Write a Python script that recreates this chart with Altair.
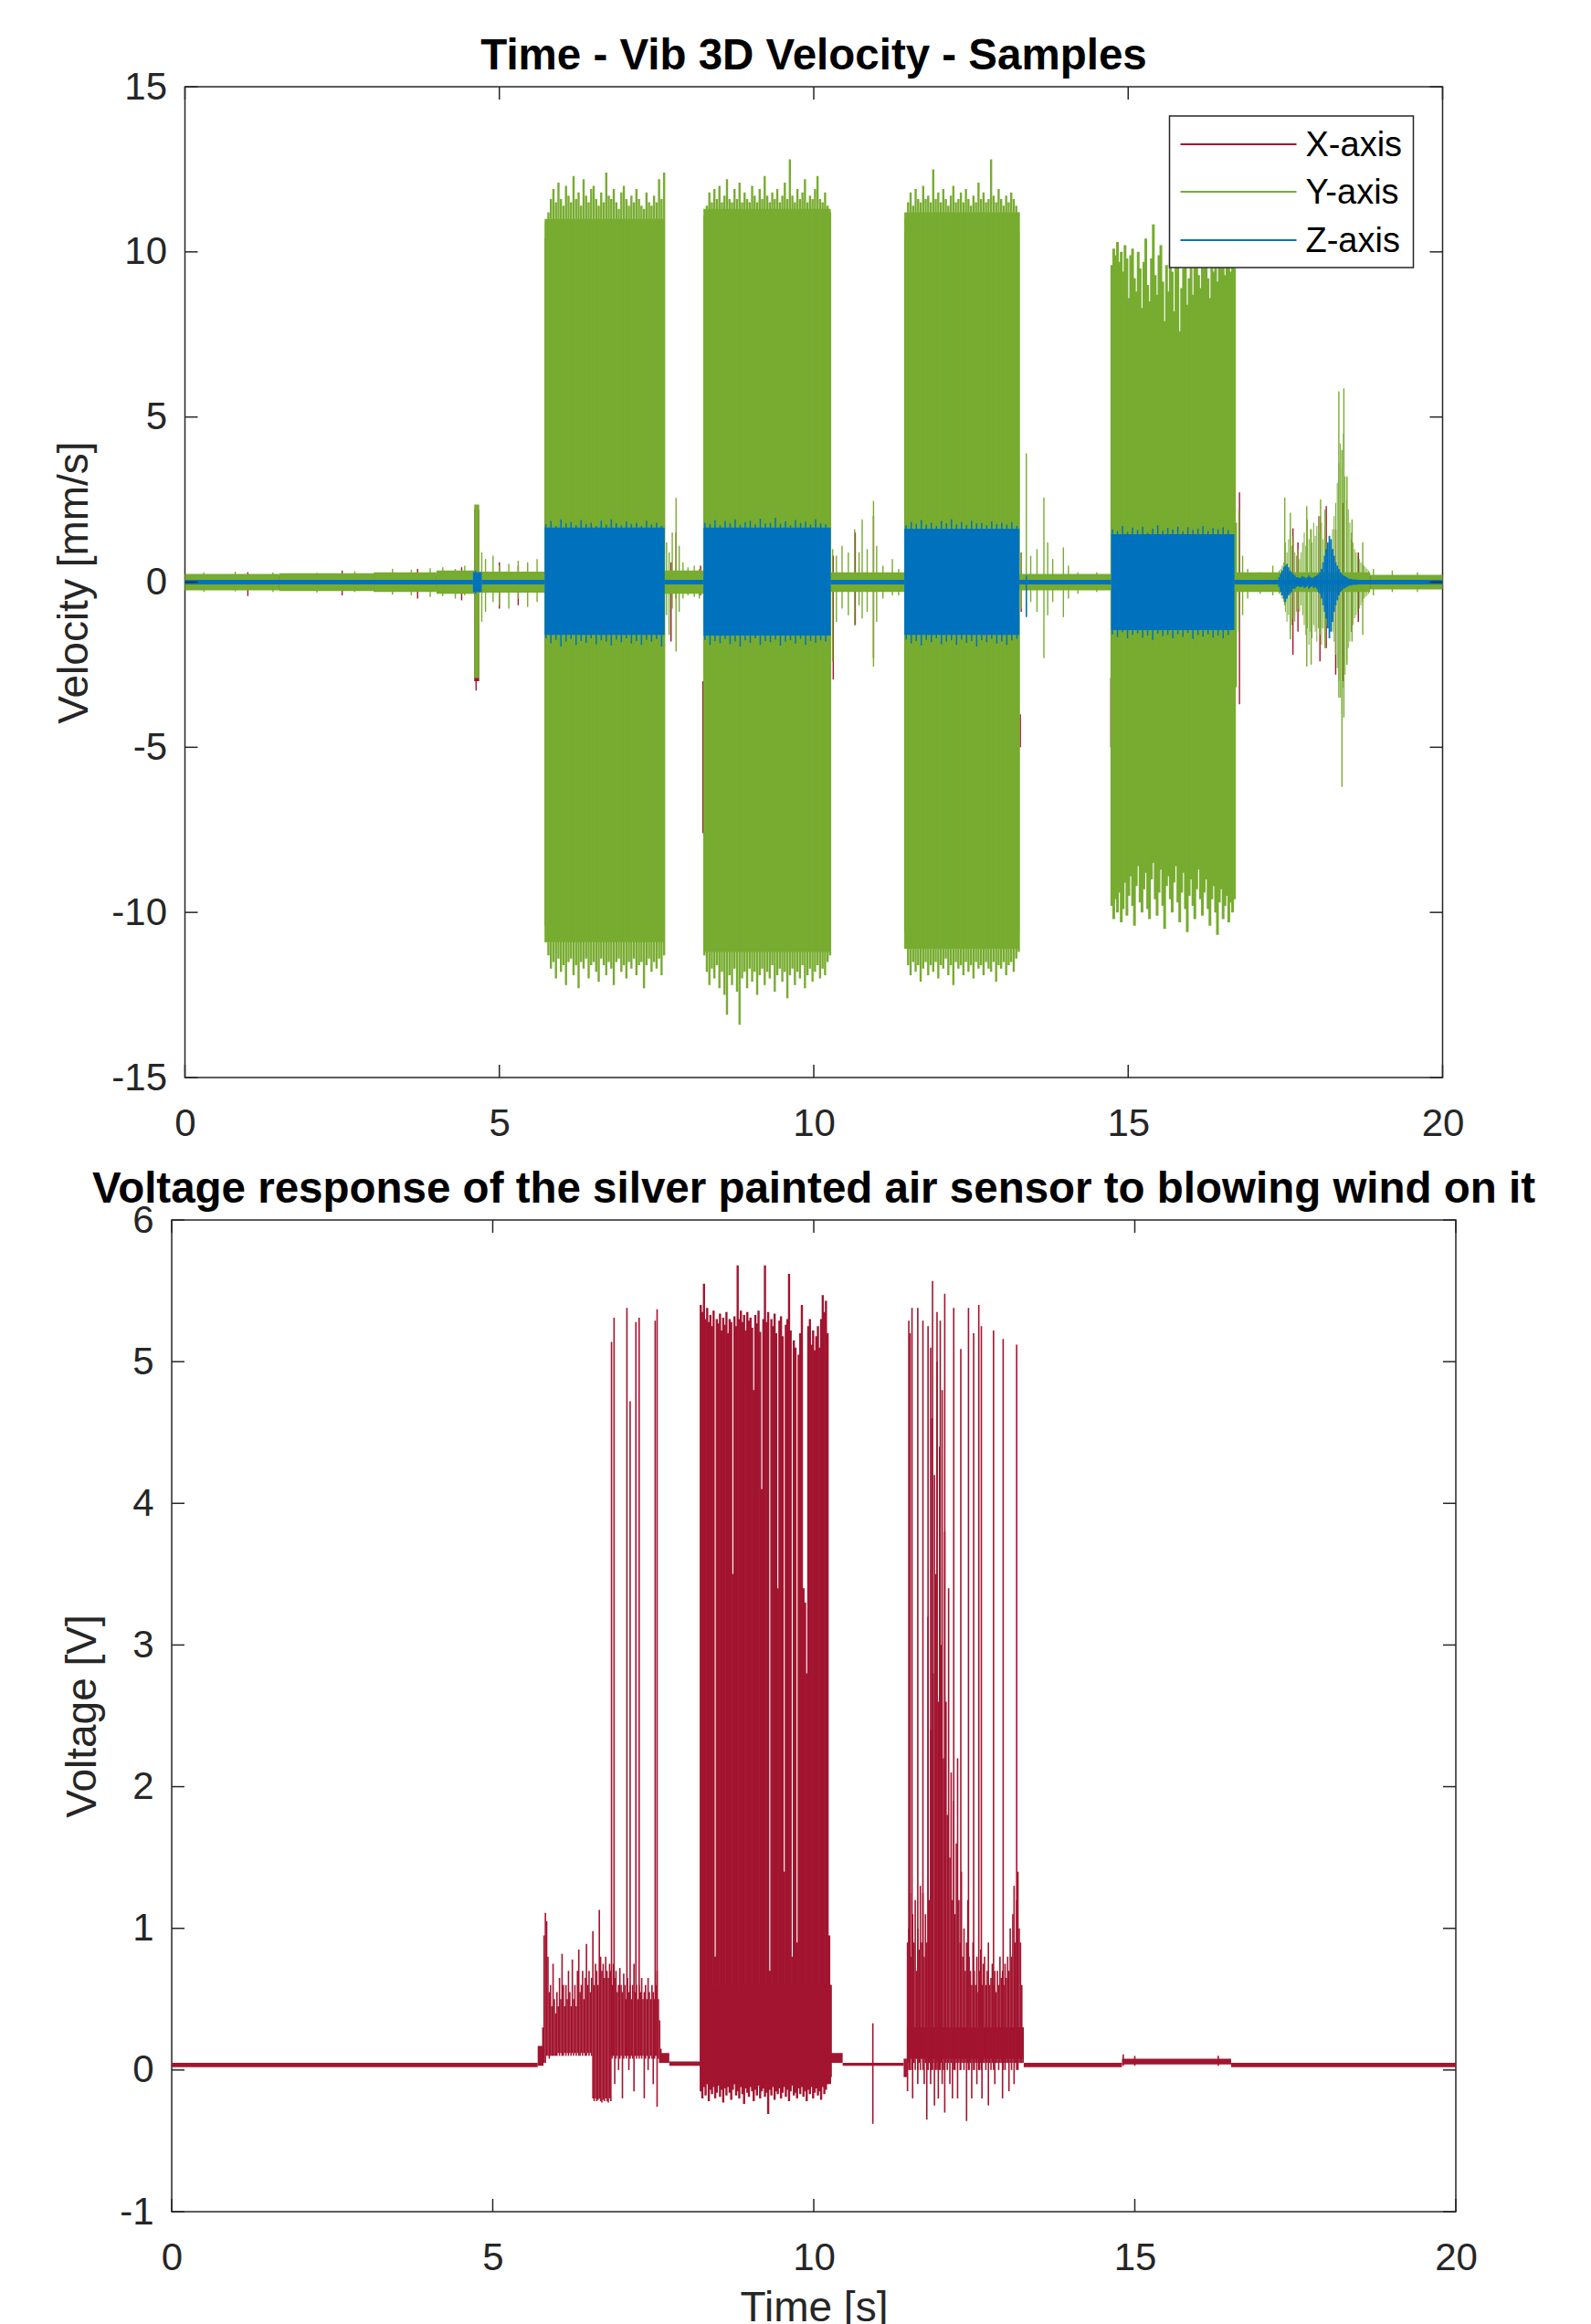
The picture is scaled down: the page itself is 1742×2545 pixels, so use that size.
import altair as alt
import pandas as pd

FONT = "Liberation Sans"
AX = "#262626"

# ======================= TOP PANEL: 3D vibration velocity =======================
SERIES = ["X-axis", "Y-axis", "Z-axis"]
COLORS = ["#A2142F", "#77AC30", "#0072BD"]

X_TICKS = [0, 5, 10, 15, 20]
V_TICKS = [-15, -10, -5, 0, 5, 10, 15]
U_TICKS = [-1, 0, 1, 2, 3, 4, 5, 6]

# envelope bands (start s, end s, low, high)
X_BANDS = [(0, 4.6, -0.22, 0.2), (4.6, 4.68, -3.0, 2.2), (4.68, 5.72, -0.25, 0.22),
           (5.72, 7.63, -10.4, 10.4), (7.63, 8.24, -0.25, 0.22), (8.245, 10.27, -10.8, 10.8),
           (10.27, 11.44, -0.22, 0.2), (11.44, 13.27, -10.6, 10.6), (13.27, 14.73, -0.2, 0.2),
           (14.73, 16.69, -7.5, 6.8), (16.69, 20, -0.2, 0.2)]
X_SPIKES = [(1.0, -0.42, 0.3), (2.5, -0.4, 0.35), (3.7, -0.5, 0.4), (4.4, -0.55, 0.45),
            (4.63, -3.28, 1.5), (5.0, -0.8, 0.6), (5.3, -0.7, 0.5), (7.73, -1.8, 0.6),
            (7.81, -0.5, 1.5), (8.2, -0.4, 0.5), (8.238, -7.6, -3.0), (10.31, -2.95, 0.8),
            (10.66, -1.3, 1.5), (10.95, -2.3, 2.0), (13.285, -5.0, -4.0), (13.3, -0.9, 0.9),
            (14.725, -5.0, -2.9), (16.695, -3.8, -3.3), (16.77, -3.7, 2.72), (17.62, -2.2, 1.63),
            (17.7, -1.5, 1.2), (18.05, -2.4, 2.0), (18.15, -2.0, 2.3), (18.3, -2.8, 1.6),
            (18.42, -3.0, 2.4), (18.55, -1.5, 1.3), (18.66, -1.2, 0.9)]

Y_BANDS = [(0, 1.5, -0.25, 0.25), (1.5, 3.0, -0.27, 0.27), (3.0, 4.0, -0.3, 0.3),
           (4.0, 4.6, -0.35, 0.35), (4.6, 4.68, -2.9, 2.35), (4.68, 5.72, -0.32, 0.32),
           (5.72, 7.63, -10.9, 11.0), (7.63, 8.245, -0.35, 0.35), (8.245, 10.27, -11.2, 11.3),
           (10.27, 11.44, -0.3, 0.3), (11.44, 13.27, -11.1, 11.2), (13.27, 14.73, -0.25, 0.25),
           (14.73, 16.69, -8.0, 7.0), (16.69, 18.85, -0.3, 0.3), (18.85, 20, -0.22, 0.22)]
Y_SPIKES = [(0.3, -0.3, 0.3), (0.8, -0.28, 0.32), (1.4, -0.3, 0.3), (2.1, -0.32, 0.28),
            (2.7, -0.3, 0.33), (3.3, -0.38, 0.4), (3.6, -0.4, 0.38), (3.9, -0.45, 0.42),
            (4.1, -0.42, 0.45), (4.3, -0.5, 0.4), (4.45, -0.4, 0.5),
            (4.72, -1.2, 0.9), (4.78, -0.9, 0.7), (4.9, -0.6, 0.8), (5.0, -0.7, 0.5),
            (5.15, -0.8, 0.55), (5.3, -0.5, 0.65), (5.45, -0.75, 0.6), (5.6, -0.6, 0.7),
            (7.66, -1.0, 1.2), (7.70, -1.6, 0.9), (7.75, -0.8, 1.5), (7.81, -2.1, 2.55),
            (7.86, -0.9, 1.1), (7.92, -0.5, 0.6), (8.0, -0.4, 0.45), (8.1, -0.45, 0.5),
            (8.18, -0.5, 0.4),
            (10.30, -2.4, 1.0), (10.36, -1.2, 0.8), (10.45, -0.8, 1.1), (10.55, -1.0, 0.9),
            (10.65, -1.3, 1.6), (10.72, -0.7, 0.9), (10.77, -1.1, 1.9), (10.85, -0.9, 1.0),
            (10.95, -2.56, 2.46), (11.0, -1.2, 1.1), (11.1, -0.5, 0.5), (11.25, -0.4, 0.7),
            (11.35, -0.4, 0.4),
            (13.30, -0.8, 0.9), (13.38, -1.0, 3.9), (13.45, -0.6, 0.8), (13.55, -0.9, 1.0),
            (13.66, -2.3, 2.56), (13.72, -1.0, 1.2), (13.8, -0.6, 0.7), (13.97, -1.06, 1.05),
            (14.05, -0.5, 0.5), (14.2, -0.35, 0.3), (14.5, -0.3, 0.3),
            (16.72, -3.18, 1.8), (16.76, -1.5, 2.2), (16.82, -1.0, 0.8), (16.9, -0.5, 0.4),
            (17.1, -0.35, 0.3), (17.3, -0.4, 0.5),
            (17.49, -0.7, 2.56), (17.58, -1.73, 2.1), (17.84, -2.56, 2.3), (17.91, -2.5, 1.6),
            (18.06, -1.4, 2.5), (18.13, -2.0, 2.2), (18.35, -3.5, 5.78), (18.40, -6.2, 4.0),
            (18.43, -4.1, 5.87), (18.48, -2.5, 3.2), (18.56, -1.8, 1.9), (18.73, -1.6, 1.2),
            (18.9, -0.4, 0.4), (19.2, -0.3, 0.35), (19.6, -0.3, 0.3)]

# sampled parts of the Y-axis trace (start s, step s, lows, highs)
Y_B1 = (5.74, 0.04,
        [-10.9, -11.3, -11.7, -11.5, -12.0, -11.4, -11.8, -11.6, -12.2, -11.5, -11.4, -11.9,
         -11.6, -12.3, -11.5, -11.7, -11.4, -12.0, -11.6, -11.5, -11.8, -12.1, -11.4, -11.6,
         -11.9, -11.5, -11.7, -12.2, -11.5, -11.4, -11.8, -11.6, -12.0, -11.5, -11.7, -11.4,
         -11.9, -11.6, -11.5, -12.3, -11.6, -11.4, -11.8, -11.5, -11.7, -11.4, -11.9, -11.3],
        [10.9, 11.2, 11.6, 11.9, 11.5, 12.1, 11.6, 11.4, 12.0, 11.7, 11.5, 12.3, 11.6, 11.8,
         11.4, 12.2, 11.7, 11.5, 11.9, 12.0, 11.6, 11.4, 11.8, 11.5, 12.4, 11.7, 11.6, 11.9,
         11.5, 11.3, 11.8, 12.0, 11.6, 11.4, 11.7, 11.5, 11.9, 11.6, 11.4, 11.3, 11.8, 11.5,
         11.4, 11.7, 11.5, 12.2, 11.6, 12.4])
Y_B2 = (8.26, 0.04,
        [-11.3, -11.8, -12.2, -11.7, -12.0, -11.6, -12.3, -11.8, -12.5, -13.1, -11.9, -12.2,
         -11.7, -12.4, -13.4, -12.0, -11.8, -12.3, -11.7, -12.1, -11.8, -12.5, -11.9, -11.7,
         -12.2, -11.8, -12.0, -11.6, -12.4, -11.9, -11.7, -12.1, -11.8, -12.6, -11.9, -11.7,
         -12.2, -11.8, -12.0, -11.6, -12.3, -11.9, -11.7, -12.1, -11.8, -11.6, -12.0, -11.7,
         -11.9, -11.5, -11.3],
        [11.1, 11.4, 11.8, 11.5, 11.9, 11.6, 12.0, 11.5, 11.7, 12.2, 11.6, 11.5, 11.9, 11.6,
         12.1, 11.5, 11.8, 11.6, 11.5, 12.0, 11.7, 11.5, 11.9, 11.6, 12.3, 11.7, 11.5, 11.8,
         11.6, 11.9, 11.5, 11.7, 12.1, 11.6, 12.8, 11.7, 11.5, 11.9, 11.6, 11.8, 12.2, 11.5,
         11.7, 11.6, 11.9, 12.3, 11.6, 11.5, 11.8, 11.4, 11.2])
Y_B3 = (11.46, 0.04,
        [-11.1, -11.6, -11.9, -11.5, -11.8, -11.6, -12.1, -11.7, -11.5, -11.9, -11.6, -11.8,
         -11.5, -12.0, -11.6, -11.7, -11.4, -11.9, -11.6, -12.2, -11.5, -11.7, -11.6, -11.9,
         -11.5, -11.8, -11.6, -12.0, -11.5, -11.7, -11.6, -11.9, -11.5, -11.7, -11.8, -11.5,
         -12.1, -11.6, -11.7, -11.5, -11.9, -11.6, -11.5, -11.8, -11.4, -11.2],
        [11.0, 11.5, 11.8, 11.4, 11.9, 11.6, 11.5, 12.0, 11.6, 11.7, 11.5, 12.5, 11.6, 11.8,
         11.5, 11.9, 11.6, 11.4, 11.7, 12.0, 11.5, 11.6, 11.8, 11.5, 11.9, 11.6, 11.4, 11.7,
         11.5, 12.1, 11.6, 11.8, 11.5, 11.6, 12.8, 11.7, 11.5, 11.9, 11.6, 11.4, 11.7, 11.5,
         11.8, 11.6, 11.4, 11.2])
Y_B4 = (14.74, 0.03,
        [-9.8, -10.2, -9.6, -10.0, -9.4, -10.3, -9.9, -9.1, -10.1, -9.5, -8.9, -9.8, -10.4,
         -9.2, -8.6, -9.7, -10.0, -9.3, -8.8, -9.9, -10.2, -9.0, -8.5, -9.6, -10.1, -9.4,
         -8.7, -9.8, -10.5, -9.2, -8.9, -9.6, -10.0, -9.1, -8.6, -9.7, -10.3, -9.4, -8.8,
         -9.9, -10.6, -9.5, -9.0, -9.8, -10.2, -9.3, -8.7, -9.6, -10.1, -9.4, -9.0, -9.9,
         -10.4, -9.6, -9.2, -10.0, -10.68, -9.7, -9.3, -10.2, -9.8, -9.5, -10.3, -9.7, -10.0,
         -9.6],
        [9.6, 10.1, 9.9, 10.3, 9.7, 10.0, 9.4, 10.2, 9.8, 8.6, 9.9, 10.1, 9.2, 8.8, 10.0, 9.5,
         8.3, 9.7, 10.4, 9.0, 8.5, 9.8, 10.83, 9.3, 8.7, 9.9, 10.2, 9.1, 7.9, 9.6, 8.8, 10.0,
         9.4, 8.2, 9.7, 9.9, 7.6, 8.9, 9.5, 10.1, 8.4, 9.2, 9.8, 8.7, 9.6, 10.0, 9.3, 8.9,
         9.7, 9.5, 10.1, 9.2, 8.6, 9.8, 9.4, 10.0, 9.1, 9.7, 9.5, 9.9, 9.3, 9.6, 10.2, 9.4,
         9.8, 9.5])
Y_TAIL = (17.40, 0.025,
          [-0.35, -0.4, -0.5, -0.6, -0.9, -1.2, -1.0, -1.5, -1.3, -1.1,
           -1.2, -0.9, -0.8, -0.9, -0.7, -1.0, -1.3, -1.6, -1.4, -1.9,
           -1.5, -1.7, -1.3, -1.5, -1.8, -1.4, -1.6, -1.9, -1.4, -1.7,
           -1.3, -1.1, -1.2, -1.4, -1.5, -1.8, -2.2, -2.6, -3.0, -3.5,
           -4.0, -3.2, -2.8, -2.4, -2.0, -1.8, -1.5, -1.3, -1.1, -1.0,
           -0.9, -0.8, -0.7, -0.6, -0.5, -0.45, -0.4, -0.35],
          [0.35, 0.4, 0.5, 0.6, 1.2, 0.9, 1.3, 1.6, 1.1, 1.4,
           0.9, 0.8, 1.0, 0.7, 0.9, 1.2, 1.5, 1.1, 1.9, 1.3,
           1.6, 1.2, 1.8, 1.4, 1.7, 2.0, 1.5, 1.8, 1.3, 1.6,
           1.2, 1.0, 1.4, 1.1, 1.6, 2.0, 2.4, 3.0, 3.6, 4.2,
           3.5, 4.5, 3.2, 2.5, 2.2, 1.8, 1.5, 1.2, 1.0, 0.9,
           0.8, 0.7, 0.6, 0.55, 0.5, 0.45, 0.4, 0.35])

Z_BANDS = [(0, 4.58, -0.07, 0.07), (4.58, 4.72, -0.3, 0.3), (4.72, 5.72, -0.07, 0.07),
           (5.72, 7.63, -1.6, 1.65), (7.63, 8.245, -0.07, 0.07), (8.245, 10.27, -1.62, 1.65),
           (10.27, 11.44, -0.07, 0.07), (11.44, 13.27, -1.6, 1.62), (13.27, 14.73, -0.07, 0.07),
           (14.73, 16.69, -1.45, 1.45), (16.69, 20, -0.07, 0.07)]
Z_SPIKES = [(4.62, -0.35, 0.35), (13.38, -1.06, 0.2)]
Z_B1 = (5.74, 0.08,
        [-1.7, -1.85, -1.75, -1.95, -1.8, -1.72, -1.9, -1.78, -1.84, -1.7, -1.88, -1.76,
         -1.8, -1.92, -1.74, -1.82, -1.7, -1.86, -1.78, -1.9, -1.75, -1.8, -1.72, -1.95],
        [1.75, 1.85, 1.7, 1.9, 1.78, 1.82, 1.72, 1.88, 1.76, 1.8, 1.7, 1.86, 1.74, 1.9,
         1.78, 1.72, 1.84, 1.76, 1.8, 1.7, 1.86, 1.75, 1.8, 1.7])
Z_B2 = (8.27, 0.08,
        [-1.75, -1.9, -1.78, -1.85, -1.72, -1.88, -1.8, -1.95, -1.76, -1.84, -1.7, -1.9,
         -1.78, -1.82, -1.74, -1.92, -1.8, -1.76, -1.86, -1.72, -1.9, -1.78, -1.84, -1.76, -1.8],
        [1.8, 1.76, 1.88, 1.72, 1.85, 1.78, 1.9, 1.74, 1.82, 1.86, 1.75, 1.92, 1.78, 1.8,
         1.95, 1.76, 1.84, 1.72, 1.88, 1.79, 1.83, 1.74, 1.9, 1.78, 1.75])
Z_B3 = (11.47, 0.08,
        [-1.74, -1.86, -1.78, -1.92, -1.75, -1.82, -1.7, -1.88, -1.8, -1.76, -1.9, -1.74,
         -1.84, -1.78, -1.95, -1.76, -1.82, -1.72, -1.86, -1.8, -1.9, -1.76, -1.72],
        [1.72, 1.82, 1.76, 1.88, 1.74, 1.8, 1.7, 1.85, 1.78, 1.9, 1.75, 1.82, 1.73, 1.86,
         1.78, 1.8, 1.72, 1.84, 1.76, 1.8, 1.74, 1.82, 1.7])
Z_B4 = (14.75, 0.08,
        [-1.58, -1.66, -1.52, -1.7, -1.6, -1.55, -1.68, -1.62, -1.75, -1.56, -1.64, -1.6,
         -1.7, -1.58, -1.66, -1.54, -1.72, -1.6, -1.65, -1.58, -1.68, -1.62, -1.7, -1.6],
        [1.6, 1.55, 1.7, 1.52, 1.65, 1.58, 1.68, 1.5, 1.62, 1.72, 1.56, 1.64, 1.6, 1.68,
         1.54, 1.66, 1.58, 1.62, 1.7, 1.55, 1.64, 1.6, 1.66, 1.58])
Z_TAIL = (17.40, 0.025,
          [-0.15, -0.3, -0.4, -0.5, -0.6, -0.5, -0.4, -0.35, -0.3, -0.2,
           -0.2, -0.15, -0.12, -0.15, -0.15, -0.12, -0.18, -0.15, -0.12, -0.2,
           -0.15, -0.12, -0.18, -0.15, -0.2, -0.3, -0.35, -0.5, -0.7, -0.9,
           -1.1, -1.4, -1.7, -1.5, -1.2, -0.9, -0.7, -0.55, -0.4, -0.3,
           -0.25, -0.2, -0.18, -0.15, -0.12, -0.1, -0.1, -0.08, -0.08, -0.08],
          [0.15, 0.25, 0.35, 0.45, 0.5, 0.55, 0.45, 0.35, 0.3, 0.25,
           0.2, 0.15, 0.15, 0.12, 0.15, 0.18, 0.15, 0.12, 0.15, 0.2,
           0.15, 0.12, 0.15, 0.18, 0.2, 0.25, 0.3, 0.4, 0.6, 0.8,
           1.0, 1.2, 1.4, 1.3, 1.0, 0.8, 0.6, 0.5, 0.4, 0.3,
           0.25, 0.2, 0.18, 0.15, 0.12, 0.1, 0.1, 0.08, 0.08, 0.08])

# ======================= BOTTOM PANEL: air sensor voltage =======================
V_BANDS = [(0, 5.70, 0.02, 0.05), (5.70, 5.78, 0.03, 0.17), (7.62, 7.75, 0.05, 0.12),
           (7.75, 8.235, 0.03, 0.06), (8.235, 10.27, -0.1, 0.6), (10.25, 10.45, 0.05, 0.12),
           (10.45, 11.40, 0.03, 0.05), (11.40, 11.45, -0.05, 0.08), (11.45, 13.27, 0.08, 0.3),
           (13.27, 14.8, 0.02, 0.05), (14.8, 16.5, 0.04, 0.08), (16.5, 20.0, 0.02, 0.05)]
V_SPIKES = [(6.85, 0.1, 5.14), (6.89, 0.1, 5.31), (7.09, 0.1, 5.38), (7.14, 0.1, 4.72),
            (7.23, 0.1, 5.28), (7.28, 0.1, 5.31), (7.53, 0.1, 5.29), (7.56, 0.1, 5.37),
            (10.92, -0.38, 0.33),
            (11.48, 0.0, 5.29), (11.50, 0.0, 5.2), (11.53, 0.0, 5.38), (11.62, 0.0, 5.38),
            (11.70, 0.0, 5.29), (11.78, 0.0, 5.25), (11.82, 0.0, 5.1), (11.85, 0.0, 5.57),
            (11.92, 0.0, 5.35), (11.97, 0.0, 5.29), (12.04, 0.0, 5.48), (12.18, 0.0, 5.38),
            (12.29, 0.0, 5.09), (12.41, 0.0, 5.38), (12.49, 0.0, 5.2), (12.57, 0.0, 5.40),
            (12.61, 0.0, 5.25), (12.80, 0.0, 5.22), (12.95, 0.0, 5.16), (13.16, 0.0, 5.12),
            (14.82, 0.03, 0.11), (15.0, 0.03, 0.1), (16.3, 0.03, 0.1)]
# sampled bursts (start s, step s, lows, highs)
V_B1 = (5.78, 0.02,
        [0.03, 0.05, 0.05, 0.1, 0.1, 0.08, 0.1, 0.1, 0.1, 0.1,
         0.1, 0.1, 0.12, 0.1, 0.12, 0.1, 0.1, 0.12, 0.1, 0.12,
         0.1, 0.12, 0.1, 0.12, 0.1, 0.12, 0.1, 0.12, 0.1, 0.1,
         0.12, 0.1, 0.12, 0.1, 0.1, 0.12, 0.1, 0.12, 0.1, -0.2,
         -0.22, -0.2, -0.22, -0.21, -0.2, -0.22, -0.23, -0.21, -0.22, -0.2,
         -0.22, -0.23, -0.2, -0.22, 0.08, 0.1, -0.1, 0.08, 0.1, 0.0,
         0.08, 0.1, -0.2, 0.08, 0.1, 0.08, 0.1, 0.0, 0.08, 0.1,
         0.08, -0.15, 0.1, 0.08, 0.1, 0.08, 0.1, 0.08, 0.1, -0.2,
         0.08, 0.1, 0.0, 0.08, 0.1, 0.08, -0.1, 0.08, 0.1, -0.26,
         0.08, 0.05, 0.05],
        [0.3, 0.95, 1.11, 1.05, 0.8, 0.55, 0.6, 0.45, 0.75, 0.5,
         0.4, 0.55, 0.45, 0.65, 0.5, 0.82, 0.6, 0.45, 0.6, 0.5,
         0.7, 0.55, 0.45, 0.78, 0.5, 0.6, 0.45, 0.7, 0.85, 0.55,
         0.6, 0.7, 0.5, 0.65, 0.89, 0.6, 0.7, 0.55, 0.65, 0.98,
         0.6, 0.75, 0.7, 0.6, 1.13, 0.8, 0.7, 0.75, 0.65, 0.8,
         0.7, 0.65, 0.75, 0.7, 0.6, 0.75, 0.65, 0.7, 0.55, 0.6,
         0.72, 0.6, 0.55, 0.68, 0.6, 0.5, 0.65, 0.55, 0.6, 0.5,
         0.6, 0.75, 0.55, 0.6, 0.5, 0.6, 0.55, 0.65, 0.5, 0.55,
         0.6, 0.5, 0.65, 0.55, 0.5, 0.6, 0.55, 0.5, 0.6, 0.7,
         0.5, 0.35, 0.15])
V_B2 = (8.24, 0.025,
        [-0.15, -0.2, -0.12, -0.18, -0.1, -0.22, -0.14, -0.17, -0.12, -0.2,
         -0.16, -0.11, -0.19, -0.14, -0.23, -0.13, -0.18, -0.12, -0.16, -0.21,
         -0.14, -0.1, -0.18, -0.15, -0.2, -0.12, -0.17, -0.24, -0.13, -0.16,
         -0.19, -0.12, -0.15, -0.22, -0.14, -0.18, -0.11, -0.2, -0.15, -0.13,
         -0.19, -0.16, -0.31, -0.14, -0.18, -0.12, -0.21, -0.15, -0.17, -0.13,
         -0.2, -0.16, -0.12, -0.19, -0.14, -0.22, -0.15, -0.11, -0.18, -0.16,
         -0.2, -0.13, -0.17, -0.12, -0.19, -0.15, -0.22, -0.14, -0.17, -0.12,
         -0.2, -0.16, -0.13, -0.18, -0.15, -0.21, -0.12, -0.17, -0.14, -0.1,
         -0.08, -0.05],
        [5.40, 5.35, 5.55, 5.30, 5.38, 5.28, 5.33, 5.25, 5.36, 0.8,
         5.30, 5.27, 5.34, 5.22, 5.31, 5.26, 5.35, 5.20, 5.30, 5.28,
         3.5, 5.32, 5.25, 5.68, 5.30, 5.36, 5.28, 5.33, 5.22, 5.35,
         5.29, 5.31, 5.24, 4.8, 5.33, 5.27, 5.36, 5.21, 4.1, 5.30,
         5.68, 5.28, 5.35, 0.7, 5.30, 5.25, 5.34, 5.20, 3.4, 5.29,
         5.32, 5.18, 1.4, 5.26, 5.30, 5.62, 5.22, 0.8, 5.15, 5.10,
         0.9, 5.05, 5.20, 5.40, 3.4, 3.3, 2.8, 5.25, 5.30, 5.12,
         5.22, 5.08, 5.18, 5.25, 5.10, 5.30, 5.47, 5.35, 5.43, 5.20,
         0.95, 0.6])
V_B3 = (11.46, 0.02,
        [-0.15, 0.05, 0.0, 0.08, -0.2, 0.05, 0.0, 0.08, -0.1, 0.05,
         0.0, 0.08, 0.05, -0.1, 0.05, -0.35, 0.0, 0.05, -0.1, 0.0,
         0.05, -0.25, 0.0, 0.05, -0.2, 0.0, 0.05, -0.1, 0.0, -0.3,
         0.05, 0.0, 0.05, -0.1, 0.05, -0.2, 0.05, 0.0, 0.05, -0.2,
         0.05, 0.0, 0.05, 0.05, 0.0, 0.05, -0.36, 0.05, 0.0, 0.05,
         -0.2, 0.05, 0.0, 0.05, -0.1, 0.05, 0.0, 0.05, -0.2, 0.05,
         0.05, 0.0, 0.05, -0.25, 0.05, 0.0, 0.05, 0.05, -0.1, 0.05,
         0.05, 0.0, 0.05, 0.05, -0.2, 0.05, 0.0, 0.05, 0.05, -0.15,
         0.05, 0.0, 0.05, -0.1, 0.05, 0.05, 0.0, 0.05, 0.05, 0.05,
         0.05],
        [0.9, 1.0, 1.25, 0.8, 1.1, 0.9, 1.2, 0.7, 1.0, 0.85,
         1.3, 0.9, 1.25, 0.8, 1.1, 0.9, 3.2, 1.2, 2.4, 4.6,
         2.8, 4.2, 3.5, 5.0, 2.6, 4.4, 3.0, 4.8, 2.2, 3.8,
         2.6, 1.8, 3.4, 1.5, 2.1, 1.2, 1.9, 1.1, 1.6, 2.2,
         1.2, 0.9, 1.4, 0.8, 1.0, 0.7, 0.9, 1.2, 0.8, 0.7,
         0.6, 0.9, 0.7, 0.6, 0.8, 0.55, 0.7, 0.85, 0.6, 0.75,
         0.8, 0.6, 0.7, 0.9, 0.6, 0.65, 0.75, 0.6, 0.7, 0.55,
         0.7, 0.6, 0.8, 0.65, 0.7, 0.6, 0.75, 0.65, 0.8, 0.7,
         1.0, 0.8, 1.1, 1.3, 0.9, 1.2, 1.4, 1.0, 0.9, 0.6,
         0.3])


# ------------------------------ helpers ------------------------------
def bands_df(rows):
    return pd.DataFrame([{"t": a, "t1": b, "lo": c, "hi": d} for a, b, c, d in rows])


def spikes_df(rows):
    return pd.DataFrame([{"t": a, "lo": b, "hi": c} for a, b, c in rows])


def sampled_df(bursts):
    rows = []
    for t0, step, lows, highs in bursts:
        for i, (lo, hi) in enumerate(zip(lows, highs)):
            rows.append({"t": round(t0 + i * step, 4), "lo": lo, "hi": hi})
    return pd.DataFrame(rows)


LABEL_EXPR = "'' + datum.value"
TL = 14  # tick length in px
ONE = pd.DataFrame({"k": [0]})


def band_layer(df, enc_x, enc_y, color):
    return alt.Chart(df).mark_rect(strokeWidth=0, color=color).encode(
        x=enc_x, x2="t1:Q", y=enc_y, y2="hi:Q")


def rule_layer(df, enc_x, enc_y, color, width):
    return alt.Chart(df).mark_rule(strokeWidth=width, color=color).encode(
        x=enc_x, y=enc_y, y2="hi:Q")


def tick_layers(xvals, yvals, X, Y, W, H):
    xt = pd.DataFrame({"t": xvals})
    yt = pd.DataFrame({"lo": yvals})
    base_x = alt.Chart(xt).mark_rule(color=AX, strokeWidth=1.5)
    base_y = alt.Chart(yt).mark_rule(color=AX, strokeWidth=1.5)
    return [
        base_x.encode(x=X, y=alt.value(H), y2=alt.value(H - TL)),
        base_x.encode(x=X, y=alt.value(0), y2=alt.value(TL)),
        base_y.encode(y=Y, x=alt.value(0), x2=alt.value(TL)),
        base_y.encode(y=Y, x=alt.value(W - TL), x2=alt.value(W)),
    ]


def legend_layers(x0, x1, y0, y1, line_x0, line_x1, text_x, rows_y):
    layers = [alt.Chart(ONE).mark_rect(fill="white", stroke=AX, strokeWidth=1.5).encode(
        x=alt.value(x0), x2=alt.value(x1), y=alt.value(y0), y2=alt.value(y1))]
    for name, col, yy in zip(SERIES, COLORS, rows_y):
        layers.append(alt.Chart(ONE).mark_rule(color=col, strokeWidth=2).encode(
            x=alt.value(line_x0), x2=alt.value(line_x1), y=alt.value(yy)))
        layers.append(alt.Chart(ONE).mark_text(
            align="left", baseline="middle", font=FONT, fontSize=38, color="#000000"
        ).encode(x=alt.value(text_x), y=alt.value(yy + 2), text=alt.value(name)))
    return layers


# ------------------------------ top chart ------------------------------
W1, H1 = 1377, 1085
xs1 = alt.Scale(domain=[0, 20], nice=False, zero=False)
ys1 = alt.Scale(domain=[-15, 15], nice=False, zero=False)
X1 = alt.X("t:Q", scale=xs1, title=None,
           axis=alt.Axis(values=X_TICKS, labelExpr=LABEL_EXPR))
Y1 = alt.Y("lo:Q", scale=ys1, title="Velocity [mm/s]",
           axis=alt.Axis(values=V_TICKS, labelExpr=LABEL_EXPR))
RED, GREEN, BLUE = COLORS

top = alt.layer(
    band_layer(bands_df(X_BANDS), X1, Y1, RED),
    rule_layer(spikes_df(X_SPIKES), X1, Y1, RED, 1.4),
    band_layer(bands_df(Y_BANDS), X1, Y1, GREEN),
    rule_layer(spikes_df(Y_SPIKES), X1, Y1, GREEN, 1.4),
    rule_layer(sampled_df([Y_B1, Y_B2, Y_B3]), X1, Y1, GREEN, 2.4),
    rule_layer(sampled_df([Y_B4]), X1, Y1, GREEN, 3.0),
    rule_layer(sampled_df([Y_TAIL]), X1, Y1, GREEN, 1.0),
    band_layer(bands_df(Z_BANDS), X1, Y1, BLUE),
    rule_layer(spikes_df(Z_SPIKES), X1, Y1, BLUE, 1.5),
    rule_layer(sampled_df([Z_B1, Z_B2, Z_B3, Z_B4]), X1, Y1, BLUE, 1.5),
    rule_layer(sampled_df([Z_TAIL]), X1, Y1, BLUE, 1.8),
    *tick_layers(X_TICKS, V_TICKS, X1, Y1, W1, H1),
    *legend_layers(1078, 1345, 32, 198, 1090, 1217, 1227, [63, 115, 168]),
).properties(
    width=W1, height=H1,
    title=alt.Title("Time - Vib 3D Velocity - Samples", fontSize=47.5, fontWeight="bold",
                    font=FONT, color="#000000", offset=-11, anchor="middle"),
)

# ------------------------------ bottom chart ------------------------------
W2, H2 = 1406, 1086
xs2 = alt.Scale(domain=[0, 20], nice=False, zero=False)
ys2 = alt.Scale(domain=[-1, 6], nice=False, zero=False)
X2 = alt.X("t:Q", scale=xs2, title="Time [s]",
           axis=alt.Axis(values=X_TICKS, labelExpr=LABEL_EXPR))
Y2 = alt.Y("lo:Q", scale=ys2, title="Voltage [V]",
           axis=alt.Axis(values=U_TICKS, labelExpr=LABEL_EXPR))

bottom = alt.layer(
    band_layer(bands_df(V_BANDS), X2, Y2, RED),
    rule_layer(sampled_df([V_B1, V_B3]), X2, Y2, RED, 1.6),
    rule_layer(sampled_df([V_B2]), X2, Y2, RED, 2.4),
    rule_layer(spikes_df(V_SPIKES), X2, Y2, RED, 1.6),
    *tick_layers(X_TICKS, U_TICKS, X2, Y2, W2, H2),
).properties(
    width=W2, height=H2,
    title=alt.Title("Voltage response of the silver painted air sensor to blowing wind on it",
                    fontSize=47.5, fontWeight="bold", font=FONT, color="#000000",
                    offset=-11, anchor="middle"),
)

chart = alt.vconcat(top, bottom, spacing=156, center=True, bounds="flush").resolve_scale(
    x="independent", y="independent"
).properties(
    padding={"left": 50, "top": 28, "right": 10, "bottom": 0},
    background="white",
).configure_view(
    stroke=AX, strokeWidth=1.5,
).configure_axis(
    domain=False, ticks=False, tickSize=0, grid=False,
    labelFont=FONT, labelFontSize=42, labelColor=AX, labelPadding=20,
    labelFlush=False, labelOverlap=False,
    titleFont=FONT, titleFontSize=46, titleFontWeight="normal", titleColor=AX,
    titlePadding=16,
).configure_axisX(
    labelPadding=30, titlePadding=12,
)

chart.save("out.html", embed_options={"renderer": "svg", "actions": False})
